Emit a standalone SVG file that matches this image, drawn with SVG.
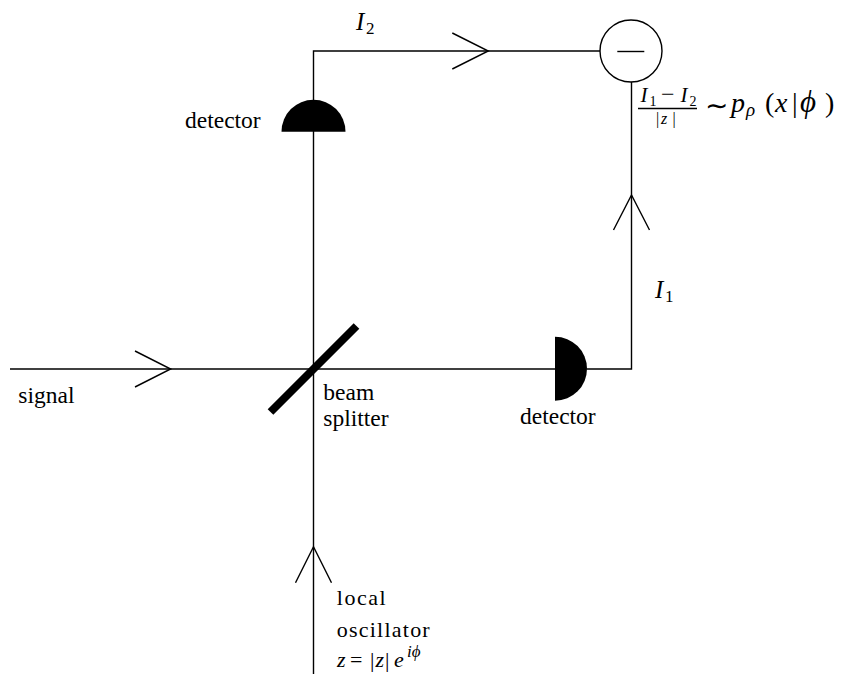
<svg xmlns="http://www.w3.org/2000/svg" width="842" height="674" viewBox="0 0 842 674">
<style>
.ln{stroke:#000;stroke-width:1.4;fill:none}
.arr{stroke:#000;stroke-width:1.4;fill:none;stroke-linejoin:miter}
.det{fill:#000;stroke:none}
.lbl{font-family:"Liberation Serif","Times New Roman",serif;font-size:23.5px;fill:#000}
.cm{font-family:"Liberation Serif","Times New Roman",serif;font-size:22px;fill:#000}
.mi{font-family:"Liberation Serif","Times New Roman",serif;font-style:italic;fill:#000}
.mr{font-family:"Liberation Serif","Times New Roman",serif;font-style:normal;fill:#000}
</style>
<rect width="842" height="674" fill="#fff"/>
<g id="connectors">
<path class="ln" d="M10 369 H555"/>
<path class="ln" d="M587 369 H631.5 V82"/>
<path class="ln" d="M313.5 674 V51 H600"/>
<polyline class="arr" points="135,351 170.7,369 135,387"/>
<polyline class="arr" points="452.3,33 488.3,51 452.3,69"/>
<polyline class="arr" points="613.5,230 631.5,195 649.5,230"/>
<polyline class="arr" points="295.5,582.7 313.5,546.7 331.5,582.7"/>
</g>
<g id="detector-top">
<path class="det" d="M281.5 131.7 A32 32 0 0 1 345.5 131.7 Z"/>
<text class="lbl" x="185" y="127.5">detector</text>
</g>
<g id="detector-right">
<path class="det" d="M555 336.7 A32 32 0 0 1 555 400.7 Z"/>
<text class="lbl" x="520" y="424">detector</text>
</g>
<g id="beam-splitter">
<line x1="270.5" y1="412" x2="356.5" y2="326" stroke="#000" stroke-width="8"/>
<text class="lbl" x="323.3" y="400">beam</text>
<text class="lbl" x="323.3" y="426">splitter</text>
</g>
<g id="signal">
<text class="lbl" x="18.3" y="403">signal</text>
</g>
<g id="local-oscillator">
<text class="cm" x="336.7" y="605" textLength="49" lengthAdjust="spacing">local</text>
<text class="cm" x="336.7" y="636.7" textLength="93" lengthAdjust="spacing">oscillator</text>
<text y="666.7" font-size="22"><tspan class="mi" x="337">z</tspan><tspan class="mr" x="350">=</tspan><tspan class="mr" x="370">|</tspan><tspan class="mi" x="375.5">z</tspan><tspan class="mr" x="385">|</tspan><tspan class="mi" x="394">e</tspan><tspan class="mi" x="407" y="657" font-size="17">iϕ</tspan></text>
</g>
<g id="subtractor">
<circle cx="631" cy="51" r="31" fill="#fff" stroke="#000" stroke-width="1.4"/>
<line x1="617.3" y1="51.5" x2="644.3" y2="51.5" stroke="#000" stroke-width="1.4"/>
</g>
<g id="label-I2">
<text font-size="25"><tspan class="mi" x="356" y="29.5">I</tspan><tspan class="mr" x="366" y="33.5" font-size="17">2</tspan></text>
</g>
<g id="label-I1">
<text font-size="25"><tspan class="mi" x="655" y="298">I</tspan><tspan class="mr" x="665" y="302" font-size="17">1</tspan></text>
</g>
<g id="formula">
<text font-size="21"><tspan class="mi" x="640.5" y="102.3">I</tspan><tspan class="mr" x="649.5" y="105.5" font-size="14">1</tspan><tspan class="mr" x="661" y="102.3" font-size="24">−</tspan><tspan class="mi" x="680.5" y="102.3">I</tspan><tspan class="mr" x="689.5" y="105.5" font-size="14">2</tspan></text>
<line x1="638" y1="108.5" x2="697" y2="108.5" stroke="#000" stroke-width="1.3"/>
<text font-size="16"><tspan class="mr" x="656" y="124">|</tspan><tspan class="mi" x="661" y="124">z</tspan><tspan class="mr" x="672.5" y="124">|</tspan></text>
<text font-size="28"><tspan class="mr" x="705" y="115">∼</tspan><tspan class="mi" x="731" y="111.7">p</tspan><tspan class="mi" x="746" y="116" font-size="19">ρ</tspan><tspan class="mr" x="765" y="111.7">(</tspan><tspan class="mi" x="775" y="111.7">x</tspan><tspan class="mr" x="792" y="111.7">|</tspan><tspan class="mi" x="800" y="111.7" font-size="31">ϕ</tspan><tspan class="mr" x="825" y="111.7">)</tspan></text>
</g>
</svg>
